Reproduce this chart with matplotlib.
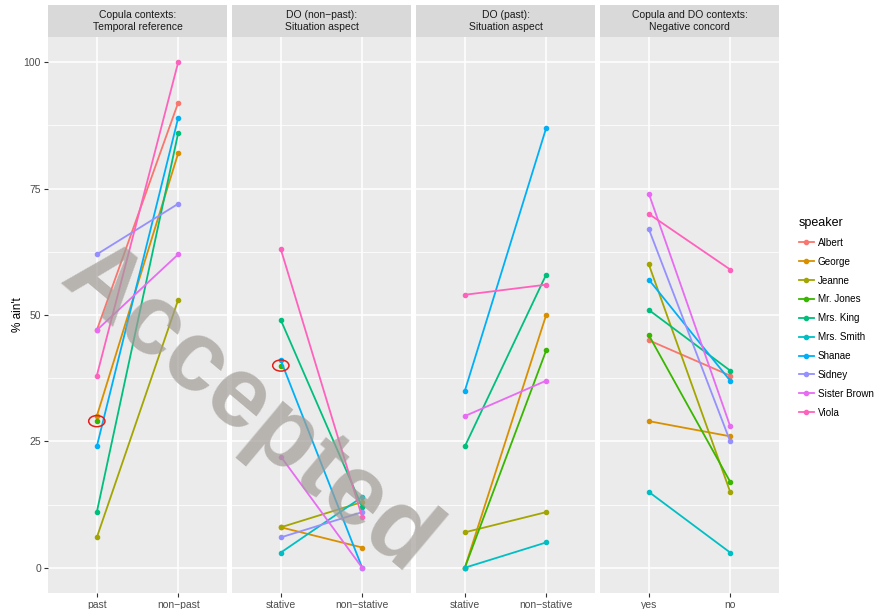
import numpy as np
import matplotlib
matplotlib.use('Agg')
import matplotlib.pyplot as plt
from matplotlib.patches import Ellipse
from matplotlib.lines import Line2D

plt.rcParams['font.family'] = ['Liberation Sans', 'DejaVu Sans']

speakers = ['Albert', 'George', 'Jeanne', 'Mr. Jones', 'Mrs. King',
            'Mrs. Smith', 'Shanae', 'Sidney', 'Sister Brown', 'Viola']
colors = ['#F8766D', '#D89000', '#A3A500', '#39B600', '#00BF7D',
          '#00BFC4', '#00B0F6', '#9590FF', '#E76BF3', '#FF62BC']

nan = np.nan
titles = ['Copula contexts:\nTemporal reference',
          'DO (non\u2212past):\nSituation aspect',
          'DO (past):\nSituation aspect',
          'Copula and DO contexts:\nNegative concord']
levels = [['past', 'non\u2212past'],
          ['stative', 'non\u2212stative'],
          ['stative', 'non\u2212stative'],
          ['yes', 'no']]

# % ain't per speaker, [first level, second level]
copula_temporal = [[47, 92], [30, 82], [6, 53], [29, nan], [11, 86],
                   [nan, nan], [24, 89], [62, 72], [47, 62], [38, 100]]
do_nonpast = [[nan, nan], [8, 4], [8, 13], [40, nan], [49, 12],
              [3, 14], [41, 0], [6, 11], [22, 0], [63, 10]]
do_past = [[nan, nan], [0, 50], [7, 11], [0, 43], [24, 58],
           [0, 5], [35, 87], [nan, nan], [30, 37], [54, 56]]
neg_concord = [[45, 38], [29, 26], [60, 15], [46, 17], [51, 39],
               [15, 3], [57, 37], [67, 25], [74, 28], [70, 59]]
panels = [copula_temporal, do_nonpast, do_past, neg_concord]

# points circled in red: (panel, speaker)
circled = [(0, 'Mr. Jones'), (1, 'Mr. Jones')]

W, H = 875, 609
fig = plt.figure(figsize=(W / 100, H / 100), dpi=100)

left0, pw, gap = 48, 179, 5
ptop, pbot = 37, 593
strip_top = 5

axes = []
for i in range(4):
    x0 = left0 + i * (pw + gap)
    ax = fig.add_axes([x0 / W, 1 - pbot / H, pw / W, (pbot - ptop) / H])
    ax.set_facecolor('#EBEBEB')
    for s in ax.spines.values():
        s.set_visible(False)
    ax.set_xlim(0.4, 2.6)
    ax.set_ylim(-5, 105)
    ax.set_yticks([0, 25, 50, 75, 100])
    ax.set_yticks([12.5, 37.5, 62.5, 87.5], minor=True)
    ax.set_xticks([1, 2])
    ax.set_xticklabels(levels[i])
    ax.grid(True, which='major', color='white', lw=1.1)
    ax.grid(True, which='minor', axis='y', color='white', lw=0.55)
    ax.set_axisbelow(True)
    ax.tick_params(axis='both', which='major', length=3, width=0.8,
                   color='#333333', labelcolor='#4D4D4D', labelsize=7.5, pad=2)
    ax.tick_params(axis='y', which='minor', length=0)
    if i > 0:
        ax.tick_params(axis='y', which='both', left=False, labelleft=False)

    for sp, col, vals in zip(speakers, colors, panels[i]):
        ax.plot([1, 2], vals, '-o', color=col, lw=1.3, ms=3, zorder=3)

    for pi, sp in circled:
        if pi == i:
            k = speakers.index(sp)
            xv = 1 if not np.isnan(panels[i][k][0]) else 2
            yv = panels[i][k][xv - 1]
            ax.add_patch(Ellipse((xv, yv), 0.2, 2.2, fill=False,
                                 ec='#E0201B', lw=1.1, zorder=4))

    # facet strip
    sax = fig.add_axes([x0 / W, 1 - ptop / H, pw / W, (ptop - strip_top) / H])
    sax.set_facecolor('#D9D9D9')
    sax.set_xticks([])
    sax.set_yticks([])
    for s in sax.spines.values():
        s.set_visible(False)
    sax.text(0.5, 0.5, titles[i], ha='center', va='center', fontsize=7.5,
             color='#1A1A1A', linespacing=1.15, transform=sax.transAxes)
    axes.append(ax)

fig.text(18 / W, 1 - 315 / H, "% ain't", rotation=90, ha='center',
         va='center', fontsize=8.5, color='black')

handles = [Line2D([], [], color=c, lw=1.3, marker='o', ms=3) for c in colors]
leg = fig.legend(handles, speakers, title='speaker', loc='upper left',
                 bbox_to_anchor=(795 / W, 1 - 213 / H), frameon=False,
                 fontsize=7.1, title_fontsize=9, handlelength=1.5,
                 labelspacing=0.9, handletextpad=0.4, borderaxespad=0)
leg._legend_box.align = 'left'

# watermark
fig.text(248 / W, 1 - 410 / H, 'Accepted', rotation=-40, ha='center',
         va='center', fontsize=73, fontweight='bold', color='#A19C97',
         alpha=0.7, zorder=10)

fig.savefig('out.png', dpi=100)
